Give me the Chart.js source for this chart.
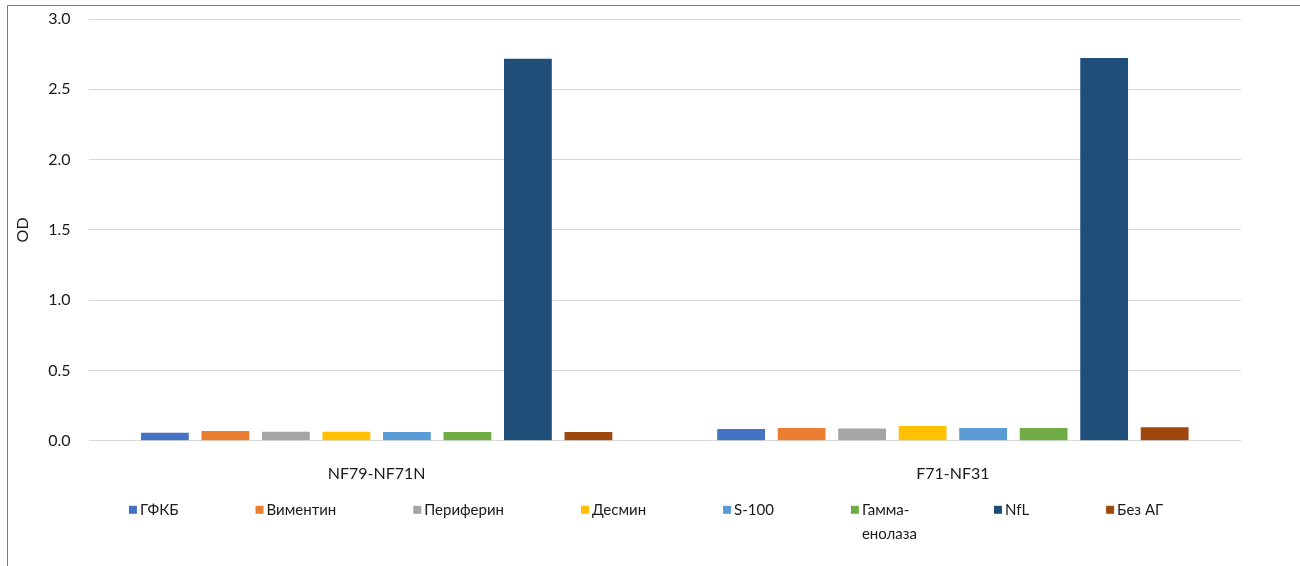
<!DOCTYPE html>
<html>
<head>
<meta charset="utf-8">
<script src="https://cdn.jsdelivr.net/npm/chart.js@4.4.1/dist/chart.umd.min.js"></script>
<style>
  body { margin: 0; background: #fff; }
</style>
</head>
<body>
<canvas id="myChart" width="1300" height="566"></canvas>
<script>
const categories = ['NF79-NF71N', 'F71-NF31'];
const seriesNames = ['ГФКБ', 'Виментин', 'Периферин', 'Десмин', 'S-100', 'Гамма-\nенолаза', 'NfL', 'Без АГ'];
const gfkb = [0.058, 0.084];
const vimentin = [0.070, 0.091];
const periferin = [0.065, 0.087];
const desmin = [0.065, 0.105];
const s100 = [0.063, 0.091];
const gammaEnolase = [0.063, 0.091];
const nfl = [2.718, 2.723];
const bezAg = [0.063, 0.096];
const yTicks = [0, 0.5, 1, 1.5, 2, 2.5, 3];

const seriesValues = [gfkb, vimentin, periferin, desmin, s100, gammaEnolase, nfl, bezAg];
const seriesColors = ['#4472C4', '#ED7D31', '#A5A5A5', '#FFC000', '#5B9BD5', '#70AD47', '#1F4E79', '#9E480E'];

const fontFamily = "Lato, 'Open Sans', sans-serif";
const textColor = '#1a1a1a';

// border of the chart frame (only left and top are visible)
const framePlugin = {
    id: 'frame',
    beforeDraw(chart) {
        const c = chart.ctx;
        c.save();
        c.strokeStyle = '#7a7a7a';
        c.lineWidth = 1;
        c.beginPath();
        c.moveTo(7.5, chart.height);
        c.lineTo(7.5, 5.5);
        c.lineTo(chart.width, 5.5);
        c.stroke();
        c.restore();
    }
};

// legend like Excel: small square, label can wrap on '\n'
const legendPlugin = {
    id: 'excelLegend',
    afterDraw(chart) {
        const c = chart.ctx;
        const box = 8;
        const gap = 3;
        const after = 77;
        const lineH = 24;
        c.save();
        c.font = '15px ' + fontFamily;
        c.textBaseline = 'middle';
        c.textAlign = 'left';
        const items = chart.data.datasets.map(ds => {
            const lines = ds.label.split('\n');
            const w = Math.max(...lines.map(l => c.measureText(l).width));
            return { lines, w, color: ds.backgroundColor };
        });
        let total = 0;
        items.forEach((it, i) => {
            total += box + gap + it.w + (i < items.length - 1 ? after : 0);
        });
        let x = chart.width / 2 - 4 - total / 2;
        const y = chart.chartArea.bottom + 69;
        items.forEach(it => {
            c.fillStyle = it.color;
            c.fillRect(x, y - box / 2, box, box);
            c.fillStyle = textColor;
            it.lines.forEach((l, k) => c.fillText(l, x + box + gap, y + k * lineH));
            x += box + gap + it.w + after;
        });
        c.restore();
    }
};

const ctx = document.getElementById('myChart').getContext('2d');
const myChart = new Chart(ctx, {
    type: 'bar',
    data: {
        labels: categories,
        datasets: seriesNames.map((name, i) => ({
            label: name,
            data: seriesValues[i],
            backgroundColor: seriesColors[i],
            borderWidth: 0,
            categoryPercentage: 0.84,
            barPercentage: 0.79
        }))
    },
    options: {
        responsive: false,
        animation: false,
        devicePixelRatio: 1,
        layout: {
            padding: { left: 9, right: 59, top: 19, bottom: 68 }
        },
        plugins: {
            legend: { display: false },
            tooltip: { enabled: false }
        },
        scales: {
            x: {
                grid: { display: false },
                border: { display: false },
                ticks: {
                    padding: 15,
                    color: textColor,
                    font: { family: fontFamily, size: 16 }
                }
            },
            y: {
                min: 0,
                max: 3,
                afterBuildTicks: (axis) => {
                    axis.ticks = yTicks.map(v => ({ value: v }));
                },
                grid: {
                    color: '#d9d9d9',
                    lineWidth: 1,
                    drawTicks: true,
                    tickLength: 18,
                    tickColor: 'rgba(0,0,0,0)'
                },
                border: { display: false },
                ticks: {
                    padding: 0,
                    color: textColor,
                    font: { family: fontFamily, size: 16 },
                    callback: (v) => Number(v).toFixed(1)
                },
                title: {
                    display: true,
                    text: 'OD',
                    color: textColor,
                    font: { family: fontFamily, size: 16 },
                    padding: { top: 4, bottom: 16 }
                }
            }
        }
    },
    plugins: [framePlugin, legendPlugin]
});
</script>
</body>
</html>
